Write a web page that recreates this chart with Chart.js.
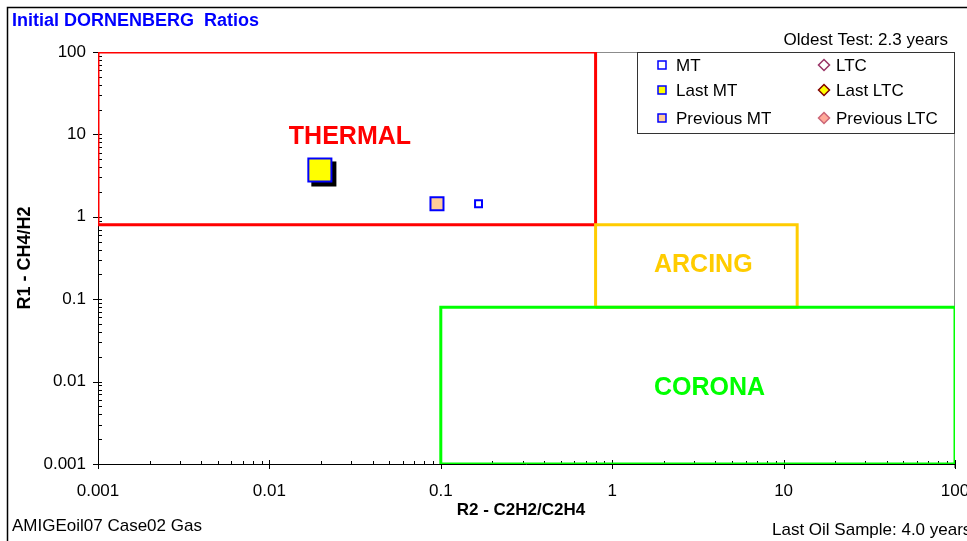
<!DOCTYPE html>
<html>
<head>
<meta charset="utf-8">
<script src="https://cdn.jsdelivr.net/npm/chart.js@4/dist/chart.umd.min.js"></script>
<style>
  body { margin: 0; background: #fff; }
  #wrap { width: 967px; height: 541px; }
</style>
</head>
<body>
<div id="wrap"><canvas id="chart" width="967" height="541"></canvas></div>
<script>
// axis ticks
const tickValues = [0.001, 0.01, 0.1, 1, 10, 100]
const xTickLabels = ["0.001", "0.01", "0.1", "1", "10", "100"]
const yTickLabels = ["0.001", "0.01", "0.1", "1", "10", "100"]

// zone limits: R2 (x) range and R1 (y) range
const thermalR2 = [0.001, 0.8]
const thermalR1 = [0.8, 100]
const arcingR2 = [0.8, 12]
const arcingR1 = [0.08, 0.8]
const coronaR2 = [0.1, 100]
const coronaR1 = [0.001, 0.08]

// where the zone names sit
const zoneNames = ["THERMAL", "ARCING", "CORONA"]
const zoneLabelR2 = [0.0295, 3.4, 3.7]
const zoneLabelR1 = [9.3, 0.26, 0.0084]

// samples (R2, R1)
const mtR2 = [0.166]
const mtR1 = [1.44]
const lastMtR2 = [0.0197]
const lastMtR1 = [3.7]
const prevMtR2 = [0.095]
const prevMtR1 = [1.44]
const ltcR2 = []
const ltcR1 = []

const FONT = "Arial, 'Liberation Sans', sans-serif"

function toPoints(xs, ys) {
  return xs.map((x, i) => ({ x: x, y: ys[i] }))
}

// closed rectangle outline from a range pair
function boxPoints(xr, yr) {
  return [
    { x: xr[0], y: yr[0] }, { x: xr[1], y: yr[0] },
    { x: xr[1], y: yr[1] }, { x: xr[0], y: yr[1] },
    { x: xr[0], y: yr[0] }
  ]
}

function zone(label, xr, yr, color, order) {
  return {
    label, type: "line", data: boxPoints(xr, yr), borderColor: color,
    borderWidth: 3, pointRadius: 0, fill: false, tension: 0, order, zone: true
  }
}

const datasets = [
  { label: "MT", data: toPoints(mtR2, mtR1), pointStyle: "rect", pointRadius: 4.9,
    pointBorderWidth: 2, borderColor: "#0000FF", backgroundColor: "#FFFFFF", order: 0,
    legend: { shape: "rect", fill: "#FFFFFF", stroke: "#0000FF" } },
  { label: "Last MT", data: toPoints(lastMtR2, lastMtR1), pointStyle: "rect", pointRadius: 16.3,
    pointBorderWidth: 2, borderColor: "#0000FF", backgroundColor: "#FFFF00", order: 0, shadow: true,
    legend: { shape: "rect", fill: "#FFFF00", stroke: "#0000FF" } },
  { label: "Previous MT", data: toPoints(prevMtR2, prevMtR1), pointStyle: "rect", pointRadius: 9.2,
    pointBorderWidth: 2, borderColor: "#0000FF", backgroundColor: "#FFCC99", order: 0,
    legend: { shape: "rect", fill: "#FFCC99", stroke: "#0000FF" } },
  { label: "LTC", data: toPoints(ltcR2, ltcR1), pointStyle: "rectRot", pointRadius: 5,
    borderColor: "#993366", backgroundColor: "#FFFFFF", order: 0,
    legend: { shape: "diamond", fill: "#FFFFFF", stroke: "#993366" } },
  { label: "Last LTC", data: toPoints(ltcR2, ltcR1), pointStyle: "rectRot", pointRadius: 5,
    borderColor: "#800000", backgroundColor: "#FFFF00", order: 0,
    legend: { shape: "diamond", fill: "#FFFF00", stroke: "#800000" } },
  { label: "Previous LTC", data: toPoints(ltcR2, ltcR1), pointStyle: "rectRot", pointRadius: 5,
    borderColor: "#CC6677", backgroundColor: "#FFAA99", order: 0,
    legend: { shape: "diamond", fill: "#FFAA99", stroke: "#CC6677" } },
  zone("Corona", coronaR2, coronaR1, "#00FF00", 1),
  zone("Arcing", arcingR2, arcingR1, "#FFCC00", 2),
  zone("Thermal", thermalR2, thermalR1, "#FF0000", 3)
]

const zoneColors = ["#FF0000", "#FFCC00", "#00FF00"]

// frame, plot border, log tick marks, zone names
const backdrop = {
  id: "backdrop",
  beforeDatasetsDraw(chart) {
    const { ctx, chartArea: { left, right, top, bottom } } = chart
    const xs = chart.scales.x, ys = chart.scales.y
    ctx.save()
    ctx.strokeStyle = "#8c8c8c"
    ctx.lineWidth = 1
    ctx.beginPath()
    ctx.moveTo(left, top + 0.5); ctx.lineTo(right - 0.5, top + 0.5)
    ctx.moveTo(right - 0.5, top); ctx.lineTo(right - 0.5, bottom + 4)
    ctx.stroke()

    ctx.strokeStyle = "#000"
    ctx.beginPath()
    ctx.moveTo(left + 0.5, top); ctx.lineTo(left + 0.5, bottom + 0.5)
    ctx.lineTo(right, bottom + 0.5)
    // log ticks
    for (let d = 0; d < tickValues.length; d++) {
      const v = tickValues[d]
      const px = Math.round(xs.getPixelForValue(v)) + 0.5
      ctx.moveTo(px, bottom - 4); ctx.lineTo(px, bottom + 5)
      const py = Math.round(ys.getPixelForValue(v)) + 0.5
      ctx.moveTo(left - 5, py); ctx.lineTo(left + 4, py)
      if (d == tickValues.length - 1) break
      for (let k = 2; k < 10; k++) {
        const mx = Math.round(xs.getPixelForValue(v * k)) + 0.5
        ctx.moveTo(mx, bottom - 3); ctx.lineTo(mx, bottom)
        const my = Math.round(ys.getPixelForValue(v * k)) + 0.5
        ctx.moveTo(left, my); ctx.lineTo(left + 4, my)
      }
    }
    ctx.stroke()

    ctx.font = "bold 25px " + FONT
    ctx.textAlign = "center"
    ctx.textBaseline = "middle"
    zoneNames.forEach((name, i) => {
      ctx.fillStyle = zoneColors[i]
      ctx.fillText(name, xs.getPixelForValue(zoneLabelR2[i]), ys.getPixelForValue(zoneLabelR1[i]))
    })
    ctx.restore()
  },
  // drop shadow under the last main-tank sample
  beforeDatasetDraw(chart, args) {
    const ds = chart.data.datasets[args.index]
    if (!ds.shadow) return
    const ctx = chart.ctx
    const s = ds.pointRadius * Math.SQRT1_2 + ds.pointBorderWidth / 2
    ctx.save()
    ctx.fillStyle = "#000"
    args.meta.data.forEach(pt => {
      ctx.fillRect(pt.x - s + 4, pt.y - s + 4, 2 * s, 2 * s)
    })
    ctx.restore()
  },
  afterDraw(chart) {
    const ctx = chart.ctx
    const { top, bottom } = chart.chartArea
    ctx.save()
    // outer frame
    ctx.strokeStyle = "#000"
    ctx.lineWidth = 1.5
    ctx.beginPath()
    ctx.moveTo(7.5, 545); ctx.lineTo(7.5, 7.5); ctx.lineTo(970, 7.5)
    ctx.stroke()

    ctx.fillStyle = "#0000FF"
    ctx.font = "bold 18px " + FONT
    ctx.textBaseline = "middle"
    ctx.textAlign = "left"
    ctx.fillText("Initial DORNENBERG  Ratios", 12, 21)

    ctx.fillStyle = "#000"
    ctx.font = "17px " + FONT
    ctx.textAlign = "right"
    ctx.fillText("Oldest Test: 2.3 years", 948, 40)
    ctx.textAlign = "left"
    ctx.fillText("AMIGEoil07 Case02 Gas", 12, 526)
    ctx.fillText("Last Oil Sample: 4.0 years", 772, 530)

    // axis titles
    ctx.font = "bold 17px " + FONT
    ctx.textAlign = "center"
    ctx.fillText("R2 - C2H2/C2H4", 521, 510)
    ctx.save()
    ctx.font = "bold 18px " + FONT
    ctx.translate(25, (top + bottom) / 2)
    ctx.rotate(-Math.PI / 2)
    ctx.fillText("R1 - CH4/H2", 0, 0)
    ctx.restore()

    // legend
    const lx = 637.5, ly = 52.5, lw = 317, lh = 81
    ctx.fillStyle = "#fff"
    ctx.fillRect(lx, ly, lw, lh)
    ctx.strokeStyle = "#333"
    ctx.lineWidth = 1
    ctx.strokeRect(lx, ly, lw, lh)
    const rows = [65, 90, 118]
    const markX = [662, 824]
    const textX = [676, 836]
    ctx.font = "17px " + FONT
    ctx.textAlign = "left"
    chart.data.datasets.filter(d => d.legend).forEach((d, i) => {
      const col = Math.floor(i / 3), y = rows[i % 3], x = markX[col]
      const m = d.legend
      ctx.fillStyle = m.fill
      ctx.strokeStyle = m.stroke
      ctx.lineWidth = 1.5
      ctx.beginPath()
      if (m.shape == "rect") {
        ctx.rect(x - 4, y - 4, 8, 8)
      } else {
        ctx.moveTo(x, y - 5.5); ctx.lineTo(x + 5.5, y); ctx.lineTo(x, y + 5.5); ctx.lineTo(x - 5.5, y)
        ctx.closePath()
      }
      ctx.fill()
      ctx.stroke()
      ctx.fillStyle = "#000"
      ctx.fillText(d.label, textX[col], y + 1)
    })
    ctx.restore()
  }
}

Chart.defaults.font.family = FONT
Chart.defaults.color = "#000"

new Chart(document.getElementById("chart"), {
  type: "scatter",
  data: { datasets },
  options: {
    responsive: false,
    animation: false,
    events: [],
    layout: { autoPadding: false, padding: { left: 0, top: 52, right: 12, bottom: 0 } },
    plugins: { legend: { display: false }, tooltip: { enabled: false } },
    scales: {
      x: {
        type: "logarithmic", position: "bottom", min: 0.001, max: 100,
        grid: { display: false, drawTicks: false }, border: { display: false },
        afterBuildTicks: s => { s.ticks = tickValues.map(v => ({ value: v, major: true })) },
        afterFit: s => { s.height = 77; s.paddingLeft = 0; s.paddingRight = 0 },
        ticks: { autoSkip: false, maxRotation: 0, padding: 17, font: { size: 17 },
          callback: (v, i) => xTickLabels[i] }
      },
      y: {
        type: "logarithmic", position: "left", min: 0.001, max: 100,
        grid: { display: false, drawTicks: false }, border: { display: false },
        afterBuildTicks: s => { s.ticks = tickValues.map(v => ({ value: v, major: true })) },
        afterFit: s => { s.width = 98; s.paddingTop = 0; s.paddingBottom = 0 },
        ticks: { autoSkip: false, padding: 12, font: { size: 17 },
          callback: (v, i) => yTickLabels[i] }
      }
    }
  },
  plugins: [backdrop]
})
</script>
</body>
</html>
